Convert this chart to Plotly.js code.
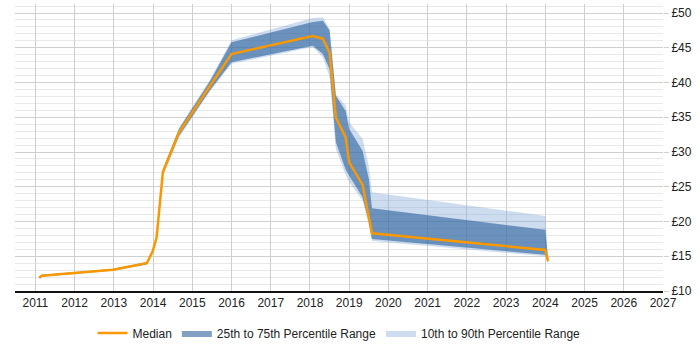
<!DOCTYPE html>
<html>
<head>
<meta charset="utf-8">
<script src="https://cdn.plot.ly/plotly-3.0.1.min.js"></script>
<style>
  html, body { margin: 0; padding: 0; background: #fff; }
  #chart { width: 700px; height: 350px; }
</style>
</head>
<body>
<div id="chart"></div>
<script>
// Time axis (decimal years) for every sample point
const years = [2011.10, 2011.16, 2012.98, 2013.84, 2013.99, 2014.09, 2014.25, 2014.66, 2015.45, 2016.00,
               2018.07, 2018.33, 2018.50, 2018.66, 2018.91, 2019.00, 2019.34, 2019.50, 2019.58, 2024.00, 2024.07];

// Hourly rate percentiles (GBP)
const median = [11.9, 12.2, 13.05, 14.0, 15.7, 17.7, 27.1, 32.8, 39.5, 44.1,
                46.7, 46.3, 44.3, 35.0, 32.1, 28.5, 25.3, 20.9, 18.3, 15.9, 14.3];
const p75    = [12.0, 12.3, 13.15, 14.15, 15.9, 17.9, 27.5, 33.3, 40.2, 45.8,
                48.7, 48.9, 47.5, 38.1, 35.9, 33.3, 30.2, 26.1, 21.9, 18.8, 14.6];
const p25    = [11.8, 12.1, 12.95, 13.85, 15.5, 17.5, 26.8, 32.3, 38.9, 42.9,
                45.3, 44.1, 41.9, 31.4, 27.5, 26.6, 23.5, 20.0, 17.5, 15.2, 14.1];
const p90    = [12.05, 12.35, 13.2, 14.25, 16.0, 18.0, 27.6, 33.5, 40.4, 46.1,
                49.3, 49.4, 47.7, 38.3, 36.7, 34.3, 31.9, 28.0, 24.2, 20.8, 14.8];
const p10    = [11.75, 12.05, 12.9, 13.75, 15.4, 17.4, 26.6, 32.1, 38.7, 42.7,
                45.1, 43.6, 40.8, 30.4, 26.7, 25.7, 23.0, 19.5, 17.2, 15.0, 14.0];

// Axis ticks
const yearTicks = [2011, 2012, 2013, 2014, 2015, 2016, 2017, 2018, 2019, 2020, 2021, 2022, 2023, 2024, 2025, 2026, 2027];
const yearLabels = yearTicks.map(String);

// Closed polygon for a band: upper edge forward, lower edge back
function band(upper, lower) {
  return {
    x: years.concat(years.slice().reverse()),
    y: upper.concat(lower.slice().reverse())
  };
}

const outer = band(p90, p10);
const inner = band(p75, p25);

const traces = [
  {
    x: outer.x, y: outer.y, type: 'scatter', mode: 'lines',
    fill: 'toself', fillcolor: 'rgba(130,170,215,0.4)',
    line: { width: 0 }, hoverinfo: 'skip',
    name: '10th to 90th Percentile Range', legendrank: 3
  },
  {
    x: inner.x, y: inner.y, type: 'scatter', mode: 'lines',
    fill: 'toself', fillcolor: 'rgba(34,88,152,0.57)',
    line: { width: 0 }, hoverinfo: 'skip',
    name: '25th to 75th Percentile Range', legendrank: 2
  },
  {
    x: years, y: median, type: 'scatter', mode: 'lines',
    line: { color: 'rgb(250,152,0)', width: 2.5 },
    name: 'Median', legendrank: 1
  }
];

const layout = {
  width: 700, height: 350,
  margin: { l: 15, r: 37, t: 4, b: 58 },
  paper_bgcolor: '#fff', plot_bgcolor: '#fff',
  font: { family: '"Liberation Sans", Arial, sans-serif', size: 12, color: '#222' },
  showlegend: true,
  legend: {
    orientation: 'h', x: 0.5, xanchor: 'center', y: -0.142, yanchor: 'middle',
    font: { size: 12, color: '#222' }, itemwidth: 30, traceorder: 'normal'
  },
  xaxis: {
    range: [2010.48, 2027.0],
    tickmode: 'array', tickvals: yearTicks, ticktext: yearLabels,
    showgrid: true, gridcolor: '#cfcfcf', gridwidth: 1,
    showline: true, linecolor: '#111', linewidth: 1.5,
    ticks: '', zeroline: false, fixedrange: true
  },
  yaxis: {
    side: 'right', range: [10, 51.3],
    tick0: 10, dtick: 5, tickprefix: '£',
    showgrid: true, gridcolor: '#cfcfcf', gridwidth: 1,
    minor: { dtick: 1, tick0: 10, showgrid: true, gridcolor: '#e8e8e8', gridwidth: 1 },
    ticks: 'outside', ticklen: 5, tickcolor: '#cfcfcf',
    showline: false, zeroline: false, fixedrange: true
  }
};

Plotly.newPlot('chart', traces, layout, { displayModeBar: false, staticPlot: true });
</script>
</body>
</html>
